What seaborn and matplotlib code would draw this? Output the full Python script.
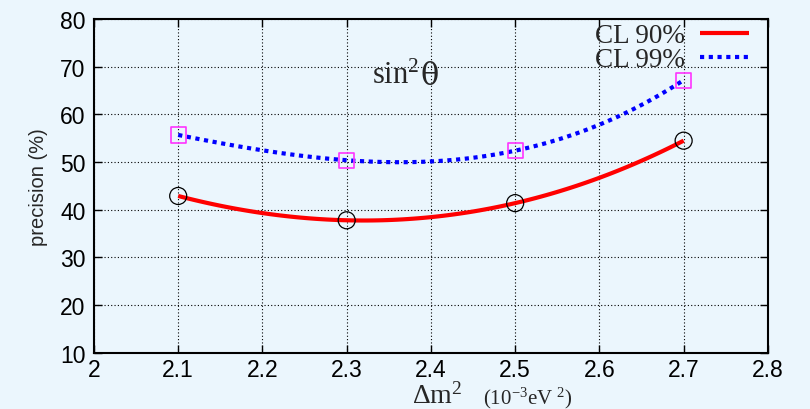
import numpy as np
import pandas as pd
import matplotlib
matplotlib.use("Agg")
import matplotlib.pyplot as plt
import seaborn as sns

# data
dm2 = [2.1, 2.3, 2.5, 2.7]
cl90 = [42.9, 37.8, 41.4, 54.5]
cl99 = [55.7, 50.4, 52.4, 67.2]
xticks = [2.0, 2.1, 2.2, 2.3, 2.4, 2.5, 2.6, 2.7, 2.8]
xticklabels = ["2", "2.1", "2.2", "2.3", "2.4", "2.5", "2.6", "2.7", "2.8"]
yticks = [10, 20, 30, 40, 50, 60, 70, 80]

sns.set_style("ticks")
plt.rcParams["font.family"] = ["Liberation Sans", "DejaVu Sans"]
plt.rcParams["mathtext.fontset"] = "custom"
plt.rcParams["mathtext.rm"] = "Liberation Serif"
plt.rcParams["mathtext.it"] = "Liberation Serif:italic"

bg = "#ebf6fd"
fig = plt.figure(figsize=(8.1, 4.1), dpi=100, facecolor=bg)
ax = fig.add_axes([0.116, 0.137, 0.832, 0.814])
ax.set_facecolor(bg)

df = pd.DataFrame({"dm2": dm2, "cl90": cl90, "cl99": cl99})

sns.regplot(data=df, x="dm2", y="cl90", order=3, ci=None, scatter=False, ax=ax, label="CL 90%",
            line_kws=dict(color="#ff0000", lw=3.0, solid_capstyle="butt", zorder=3))
sns.regplot(data=df, x="dm2", y="cl99", order=3, ci=None, scatter=False, ax=ax, label="CL 99%",
            line_kws=dict(color="#0000ff", lw=3.0, linestyle=(0, (1, 1.1)), zorder=3))

sns.scatterplot(data=df, x="dm2", y="cl90", ax=ax, marker="o", s=150, facecolor="none",
                edgecolor="black", linewidth=0.9, zorder=4, legend=False)
sns.scatterplot(data=df, x="dm2", y="cl99", ax=ax, marker="s", s=120, facecolor="none",
                edgecolor="#ff33ff", linewidth=1.2, zorder=4, legend=False)

ax.set_xlim(2.0, 2.8)
ax.set_ylim(10, 80)
ax.set_xticks(xticks)
ax.set_xticklabels(xticklabels)
ax.set_yticks(yticks)
ax.tick_params(direction="in", top=True, right=True, length=6, width=1.0,
               labelsize=16.5, colors="black", pad=6)
ax.tick_params(axis="x", pad=4)
ax.grid(True, color="black", linestyle=(0, (1, 2)), linewidth=0.8, zorder=0)
ax.set_axisbelow(True)
for s in ax.spines.values():
    s.set_color("black")
    s.set_linewidth(1.5)

ax.set_xlabel("")
ax.set_ylabel("precision (%)", fontsize=14.5, labelpad=9)

# sin^2 theta label (pieces so theta can be wider)
t1 = fig.text(0.459, 0.813, r"sin$^2$", fontsize=22, family="Liberation Serif", va="center", ha="left")
fig.canvas.draw()
r = fig.canvas.get_renderer()
bb = t1.get_window_extent(r)
fig.text((bb.x1 + 1) / fig.bbox.width, 0.813, "θ", fontsize=22, family="DejaVu Serif",
         va="center", ha="left")

fig.text(0.509, 0.016, r"Δm$^2$", fontsize=20, family="Liberation Serif", ha="left", va="baseline")
fig.text(0.596, 0.014, r"(10$^{-3}$eV $^2$)", fontsize=15, family="Liberation Serif",
         ha="left", va="baseline")

leg = ax.legend(loc="upper right", bbox_to_anchor=(1.0, 1.045), frameon=False, markerfirst=False,
                prop=dict(family="Liberation Serif", size=19.5), handlelength=1.8,
                labelspacing=-0.03, handletextpad=0.55, borderaxespad=0.3)

fig.savefig("out.png", dpi=100, facecolor=bg)
